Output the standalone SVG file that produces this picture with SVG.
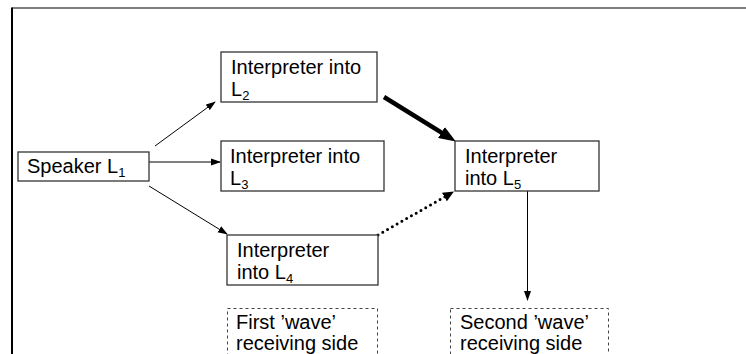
<svg xmlns="http://www.w3.org/2000/svg" width="746" height="354" viewBox="0 0 746 354">
<defs>
<style>
.box{fill:#fff;stroke:#333;stroke-width:1.3}
.dbox{fill:#fff;stroke:#444;stroke-width:1;stroke-dasharray:3 3}
.t{font-family:"Liberation Sans",Arial,sans-serif;font-size:20px;fill:#000}
.sub{font-size:13px}
.c{stroke:#000;stroke-width:1;fill:none}
</style>
<marker id="ah" markerUnits="userSpaceOnUse" markerWidth="10" markerHeight="8" refX="9" refY="4" orient="auto">
<path d="M0,0.5 L10,4 L0,7.5 z" fill="#000"/>
</marker>
<marker id="ahb" markerUnits="userSpaceOnUse" markerWidth="17" markerHeight="13" refX="4" refY="6.5" orient="auto">
<path d="M0,0 L17,6.5 L0,13 z" fill="#000"/>
</marker>
<marker id="ahd" markerUnits="userSpaceOnUse" markerWidth="11" markerHeight="10" refX="3" refY="5" orient="auto">
<path d="M0,0 L11,5 L0,10 z" fill="#000"/>
</marker>
</defs>
<rect width="746" height="354" fill="#fff"/>
<g id="frame">
<line x1="12" y1="8" x2="746" y2="8" stroke="#555" stroke-width="1.5"/>
<line x1="12" y1="7.5" x2="12" y2="354" stroke="#000" stroke-width="2"/>
</g>
<g id="connectors">
<line class="c" x1="155" y1="146" x2="215" y2="102" marker-end="url(#ah)"/>
<line class="c" x1="149" y1="162" x2="220" y2="162" marker-end="url(#ah)"/>
<line class="c" x1="149" y1="186" x2="227" y2="234" marker-end="url(#ah)"/>
<line x1="384" y1="97" x2="444.8" y2="134.7" stroke="#000" stroke-width="4.5" marker-end="url(#ahb)"/>
<line x1="378" y1="235" x2="447" y2="195.5" stroke="#000" stroke-width="3" stroke-linecap="round" stroke-dasharray="0 5.5" marker-end="url(#ahd)"/>
<line class="c" x1="527.5" y1="191" x2="527.5" y2="300" marker-end="url(#ah)"/>
</g>
<g id="speaker">
<rect class="box" x="18" y="152" width="131" height="29"/>
<text class="t" x="27" y="173">Speaker L<tspan class="sub" dy="4">1</tspan></text>
</g>
<g id="interp-l2">
<rect class="box" x="221" y="52" width="156" height="50"/>
<text class="t" x="231" y="74">Interpreter into</text>
<text class="t" x="231" y="96">L<tspan class="sub" dy="4">2</tspan></text>
</g>
<g id="interp-l3">
<rect class="box" x="221" y="141" width="163" height="50"/>
<text class="t" x="230" y="163">Interpreter into</text>
<text class="t" x="230" y="185">L<tspan class="sub" dy="4">3</tspan></text>
</g>
<g id="interp-l4">
<rect class="box" x="227" y="235" width="151" height="50"/>
<text class="t" x="237" y="257">Interpreter</text>
<text class="t" x="237" y="279">into L<tspan class="sub" dy="4">4</tspan></text>
</g>
<g id="interp-l5">
<rect class="box" x="455" y="141" width="144" height="50"/>
<text class="t" x="465" y="163">Interpreter</text>
<text class="t" x="465" y="185">into L<tspan class="sub" dy="4">5</tspan></text>
</g>
<g id="first-wave">
<rect class="dbox" x="227.5" y="308.5" width="150" height="60"/>
<text class="t" x="236" y="329">First ’wave’</text>
<text class="t" x="236" y="350">receiving side</text>
</g>
<g id="second-wave">
<rect class="dbox" x="450.5" y="308.5" width="158" height="60"/>
<text class="t" x="460" y="329">Second ’wave’</text>
<text class="t" x="460" y="350">receiving side</text>
</g>
</svg>
